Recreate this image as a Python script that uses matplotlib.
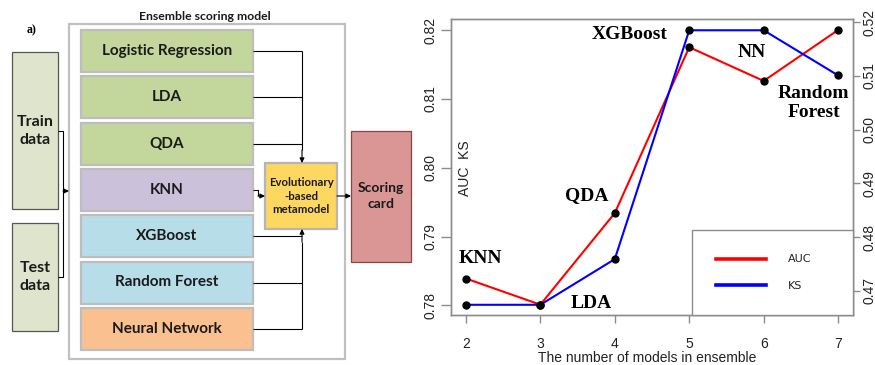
import matplotlib
matplotlib.use("Agg")
import matplotlib.pyplot as plt
from matplotlib.patches import Rectangle
from matplotlib.lines import Line2D

# chart data
n_models = [2, 3, 4, 5, 6, 7]
auc = [0.7839, 0.7801, 0.7934, 0.8175, 0.8126, 0.8200]
ks = [0.4674, 0.4674, 0.4759, 0.5185, 0.5185, 0.5101]
auc_ticks = [0.78, 0.79, 0.80, 0.81, 0.82]
ks_ticks = [0.47, 0.48, 0.49, 0.50, 0.51, 0.52]

# model added at each step
step_names = ["KNN", "LDA", "QDA", "XGBoost", "NN", "Random\nForest"]
step_pos = [(2.19, 0.7868), (3.68, 0.7803), (3.63, 0.7959),
            (4.20, 0.8193), (5.84, 0.8168), (6.67, 0.8094)]

# diagram content
model_names = ["Logistic Regression", "LDA", "QDA", "KNN",
               "XGBoost", "Random Forest", "Neural Network"]
model_colors = ["#c3d69b", "#c3d69b", "#c3d69b", "#ccc1da",
                "#b7dde8", "#b7dde8", "#fac090"]

W, H = 875, 365
fig = plt.figure(figsize=(W / 100, H / 100), dpi=100)

# ---- left: flow diagram, drawn in pixel units ----
dg = fig.add_axes([0, 0, 1, 1])
dg.set_xlim(0, W)
dg.set_ylim(H, 0)
dg.axis("off")

sans = "Lato"
dark = "#1a1a1a"
dg.text(32, 30, "a)", family="Liberation Serif", weight="bold", fontsize=8.5,
        ha="center", va="center")
dg.text(205, 17, "Ensemble scoring model", family=sans, weight="bold",
        fontsize=8.8, ha="center", va="center", color=dark)
dg.add_patch(Rectangle((69, 24), 276, 335, fc="white", ec="#c0c0c0", lw=1.6))

for y0, y1 in [(52, 209), (223, 331)]:
    dg.add_patch(Rectangle((12, y0), 46, y1 - y0, fc="#dfe4cc", ec="#555555", lw=0.9))
ty = [131, 277]
dg.text(35, ty[0], "Train\ndata", family=sans, weight="bold", fontsize=11.5,
        ha="center", va="center", linespacing=1.35, color=dark)
dg.text(35, ty[1], "Test\ndata", family=sans, weight="bold", fontsize=11.5,
        ha="center", va="center", linespacing=1.35, color=dark)

row_top = 30
row_step = 46.3
row_h = 42
for i, (name, col) in enumerate(zip(model_names, model_colors)):
    y = row_top + i * row_step
    dg.add_patch(Rectangle((81, y), 172, row_h, fc=col, ec="#bdbdbd", lw=1.6))
    dg.text(167, y + row_h / 2, name, family=sans, weight="bold", fontsize=11,
            ha="center", va="center", color=dark)

dg.add_patch(Rectangle((265, 163), 72, 66, fc="#fed760", ec="#b5b5b5", lw=1.6))
dg.text(301, 196, "Evolutionary\n-based\nmetamodel", family=sans, weight="bold",
        fontsize=8.2, ha="center", va="center", linespacing=1.3, color=dark)
dg.add_patch(Rectangle((351, 131), 60, 131, fc="#d99694", ec="#8c4442", lw=0.9))
dg.text(381, 196, "Scoring\ncard", family=sans, weight="bold", fontsize=10,
        ha="center", va="center", linespacing=1.3, color=dark)

lk = dict(color="black", lw=0.8, solid_capstyle="butt")
ak = dict(arrowstyle="-|>", mutation_scale=7, lw=0.8, color="black",
          shrinkA=0, shrinkB=0)
mids = [row_top + i * row_step + row_h / 2 for i in range(len(model_names))]
for i in [0, 1, 2, 4, 5, 6]:
    dg.plot([253, 302], [mids[i], mids[i]], **lk)
dg.plot([302, 302], [mids[0], 150], **lk)
dg.annotate("", xy=(302, 163), xytext=(302, 150), arrowprops=ak)
dg.plot([302, 302], [mids[6], 242], **lk)
dg.annotate("", xy=(302, 229), xytext=(302, 242), arrowprops=ak)
dg.plot([253, 258, 258], [mids[3], mids[3], 196], **lk)
dg.annotate("", xy=(265, 196), xytext=(258, 196), arrowprops=ak)
dg.annotate("", xy=(351, 196), xytext=(337, 196), arrowprops=ak)
dg.plot([58, 63, 63, 58], [ty[0], ty[0], ty[1], ty[1]], **lk)
dg.annotate("", xy=(69, 191), xytext=(63, 191), arrowprops=ak)

# ---- right: AUC / KS line chart ----
L, R, T, B = 451, 853, 19, 315
ax = fig.add_axes([L / W, (H - B) / H, (R - L) / W, (B - T) / H])
ax2 = ax.twinx()

grey = "#8c8c8c"
txt = "#222222"
ax.plot(n_models, auc, color="#ff0000", lw=1.5, marker="o", ms=5,
        mfc="black", mec="black", zorder=3)
ax2.plot(n_models, ks, color="#0000ff", lw=1.5, marker="o", ms=5,
         mfc="black", mec="black", zorder=3)

ax.set_xlim(1.8, 7.2)
ax.set_ylim(0.7786, 0.8216)
ax2.set_ylim(0.4655, 0.5206)
ax.set_xticks(n_models)
ax.set_xticklabels([str(n) for n in n_models], family="Liberation Sans",
                   fontsize=10, color=txt)
ax.set_yticks(auc_ticks)
ax.set_yticklabels(["%.2f" % v for v in auc_ticks], family="Liberation Sans",
                   fontsize=10, color=txt, rotation=90, va="center")
ax2.set_yticks(ks_ticks)
ax2.set_yticklabels(["%.2f" % v for v in ks_ticks], family="Liberation Sans",
                    fontsize=10, color=txt, rotation=90, va="center")

for a in (ax, ax2):
    for s in a.spines.values():
        s.set_color(grey)
        s.set_linewidth(1.0)
ax.tick_params(axis="x", length=6, width=1, color=grey, pad=10)
ax.tick_params(axis="y", length=7, width=1, color=grey, pad=3)
ax2.tick_params(axis="y", length=5, width=1, color=grey, pad=2)

ax.set_xlabel("The number of models in ensemble", family="Liberation Sans",
              fontsize=10, color=txt)
ax.xaxis.set_label_coords(0.487, -0.12)
ax.text(0.035, 0.497, "AUC  KS", transform=ax.transAxes, rotation=90,
        family="Liberation Sans", fontsize=10, color=txt, ha="center", va="center")

for name, (x, y) in zip(step_names, step_pos):
    ax.text(x, y, name, family="Liberation Serif", weight="bold", fontsize=14,
            ha="center", va="center", linespacing=1.2, zorder=4)

handles = [Line2D([], [], color="#ff0000", lw=2.6),
           Line2D([], [], color="#0000ff", lw=2.6)]
leg = ax2.legend(handles, ["AUC", "KS"], loc="lower right",
                 bbox_to_anchor=((692 - L) / (R - L), 0, (R - 692) / (R - L), 0.3),
                 mode="expand", borderaxespad=0, fontsize=8, handlelength=4.5,
                 handletextpad=1.9, labelspacing=1.45, borderpad=2.2,
                 fancybox=False, framealpha=1, edgecolor=grey)
leg.get_frame().set_linewidth(1.0)
for t in leg.get_texts():
    t.set_color(txt)

fig.savefig("out.png", dpi=100)
